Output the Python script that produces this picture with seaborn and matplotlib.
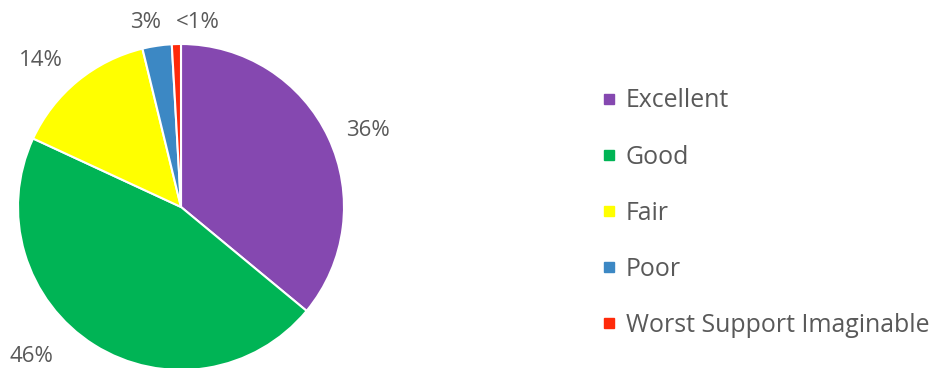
import matplotlib
matplotlib.use("Agg")
import matplotlib.pyplot as plt
from matplotlib.lines import Line2D
import seaborn as sns

categories = ["Excellent", "Good", "Fair", "Poor", "Worst Support Imaginable"]
values = [36.0, 45.9, 14.3, 2.9, 0.9]
pct_labels = ["36%", "46%", "14%", "3%", "<1%"]
colors = ["#8548B0", "#00B455", "#FFFF00", "#3C88C4", "#FF2A0A"]

sns.set_theme(style="white")
plt.rcParams["font.family"] = ["Open Sans", "DejaVu Sans"]
text_color = "#595959"

W, H = 933, 368
fig = plt.figure(figsize=(W / 100, H / 100), dpi=100)
ax = fig.add_axes([0, 0, 1, 1])
ax.set_xlim(0, W)
ax.set_ylim(0, H)
ax.set_aspect("equal")
ax.axis("off")

cx, cy, r = 181, H - 207, 163
wedges, _ = ax.pie(values, colors=colors, startangle=90, counterclock=False,
                   center=(cx, cy), radius=r,
                   wedgeprops=dict(edgecolor="white", linewidth=1.5))
ax.set_xlim(0, W)
ax.set_ylim(0, H)

# percent label positions (pixel coords, y from top)
label_pos = [(368, 130), (31, 356), (41, 60), (146, 22), (198, 22)]
for (x, y), t in zip(label_pos, pct_labels):
    ax.text(x, H - y, t, ha="center", va="center", fontsize=16, color=text_color)

handles = [Line2D([0], [0], marker="s", linestyle="none", markersize=7,
                  markerfacecolor=c, markeredgecolor=c) for c in colors]
leg = fig.legend(handles, categories, loc="upper left",
                 bbox_to_anchor=(587 / W, 1 - 76 / H), frameon=False,
                 fontsize=17.9, labelcolor=text_color, handlelength=0.75,
                 handletextpad=0.3, labelspacing=1.25, borderpad=0)

fig.savefig("out.png", dpi=100)
